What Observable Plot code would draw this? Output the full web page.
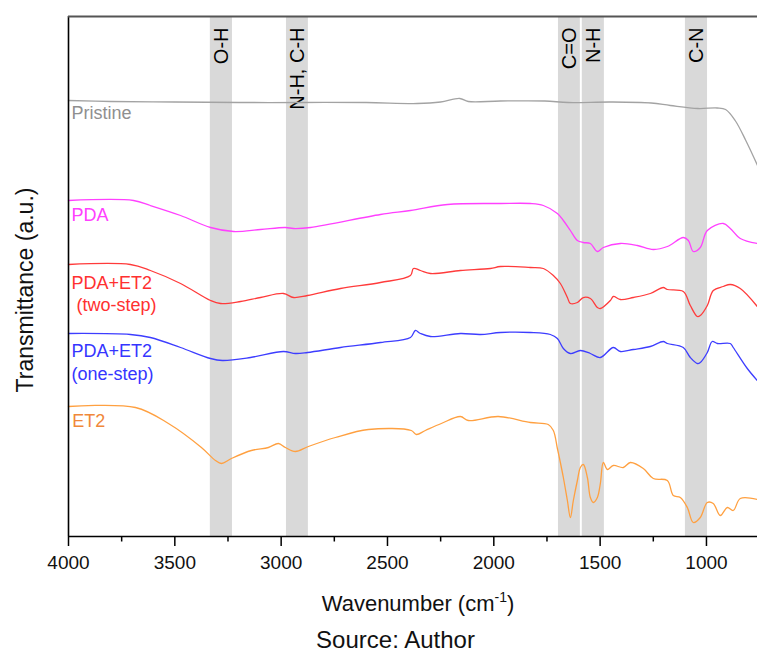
<!DOCTYPE html>
<html>
<head>
<meta charset="utf-8">
<script src="https://cdn.jsdelivr.net/npm/d3@7"></script>
<script src="https://cdn.jsdelivr.net/npm/@observablehq/plot@0.6"></script>
<style>
  body { margin: 0; background: #fff; font-family: "Liberation Sans", Arial, sans-serif; }
  #chart { position: relative; width: 757px; height: 652px; }
  #chart svg { display: block; }
  .source { position: absolute; left: 0; top: 629px; width: 791px; text-align: center;
            font-size: 24px; line-height: 22px; color: #111; }
</style>
</head>
<body>
<div id="chart"></div>
<script>
// FTIR spectra: [wavenumber (cm-1), transmittance (a.u.)], each curve offset for clarity
const pristine = [[4000,87.2],[3800,87.0],[3500,86.9],[3200,86.8],[2900,86.8],[2600,86.8],[2360,86.6],
  [2250,86.9],[2160,87.6],[2120,87.0],[1970,87.1],[1760,87.1],[1650,86.8],[1450,86.9],[1260,86.7],
  [1170,86.2],[1040,85.6],[950,85.7],[910,85.4],[865,83.2],[815,79.2],[760,74.2]];

const pda = [[4000,67.2],[3694,67.2],[3615,66.2],[3473,64.2],[3332,61.8],[3224,61.0],[3097,61.4],
  [2980,61.8],[2942,61.6],[2862,61.8],[2533,64.4],[2392,65.2],[2218,66.4],[1969,66.6],[1828,66.6],
  [1767,66.2],[1701,64.6],[1673,63.2],[1640,61.2],[1607,59.2],[1579,58.8],[1546,58.6],[1513,57.0],
  [1485,57.8],[1405,58.6],[1325,58.2],[1250,57.4],[1184,58.0],[1109,59.8],[1085,59.2],[1062,57.0],
  [1029,57.8],[996,61.2],[921,62.6],[888,61.6],[841,59.6],[761,58.6]];

const twoStep = [[4000,54.4],[3709,54.4],[3615,53.2],[3473,50.6],[3332,47.2],[3285,46.6],[3191,47.0],
  [3097,47.8],[2989,48.6],[2942,47.8],[2876,48.2],[2721,49.6],[2533,50.8],[2392,52.2],[2378,53.6],
  [2345,53.2],[2298,52.6],[2157,53.2],[2016,53.6],[1969,54.0],[1828,53.8],[1767,53.6],[1720,52.2],
  [1687,50.6],[1654,47.8],[1640,46.6],[1607,46.8],[1579,47.8],[1546,47.6],[1513,45.8],[1499,45.6],
  [1452,47.2],[1438,48.0],[1405,47.4],[1344,47.8],[1264,48.6],[1203,49.8],[1184,49.4],[1109,49.0],
  [1076,46.2],[1043,44.0],[1029,44.2],[996,46.2],[968,49.2],[921,50.0],[888,50.4],[841,49.6],[761,46.0]];

const oneStep = [[4000,40.6],[3709,40.4],[3615,39.8],[3473,37.8],[3332,35.6],[3276,35.2],[3144,35.8],
  [2989,37.0],[2933,36.6],[2876,36.8],[2721,37.8],[2533,38.8],[2392,39.8],[2369,41.2],[2345,40.6],
  [2298,40.0],[2157,40.6],[2063,40.4],[1969,40.8],[1828,40.8],[1734,40.4],[1701,39.6],[1673,37.6],
  [1640,36.6],[1593,37.2],[1546,36.6],[1499,35.8],[1438,37.8],[1405,37.0],[1344,37.4],[1264,38.0],
  [1203,39.0],[1184,38.6],[1109,37.8],[1076,35.8],[1043,34.6],[1029,34.8],[996,36.8],[973,39.0],
  [949,38.6],[888,38.6],[874,37.8],[808,33.6],[761,31.2]];

const et2 = [[4000,26.0],[3685,25.8],[3530,22.6],[3375,17.8],[3309,15.2],[3281,14.6],[3234,15.6],
  [3140,17.2],[3060,17.8],[3013,18.6],[2980,17.8],[2933,17.0],[2872,18.0],[2745,19.8],[2590,21.4],
  [2388,21.2],[2364,20.4],[2322,21.2],[2247,22.6],[2157,24.0],[2120,23.2],[1979,24.0],[1828,22.8],
  [1744,22.4],[1720,21.2],[1701,17.6],[1687,14.8],[1673,11.8],[1654,7.2],[1640,3.8],[1626,7.2],
  [1607,11.2],[1593,13.8],[1579,14.4],[1560,11.8],[1546,7.8],[1532,6.8],[1513,7.8],[1499,10.6],
  [1485,14.8],[1466,13.4],[1438,14.2],[1391,13.8],[1358,14.8],[1297,13.6],[1250,11.6],[1184,11.2],
  [1156,8.2],[1123,7.8],[1090,5.8],[1062,2.8],[1029,3.8],[996,6.8],[968,6.6],[935,4.2],[902,5.8],
  [874,5.2],[841,7.6],[761,7.4]];

const seriesNames = ["Pristine", "PDA", "PDA+ET2 (two-step)", "PDA+ET2 (one-step)", "ET2"];
const seriesValues = [pristine, pda, twoStep, oneStep, et2];
const lineColors = ["#a3a3a3", "#ff40ff", "#ff3b3b", "#3d3dff", "#ffa040"];

// Absorption bands (cm-1)
const bandNames = ["O-H", "N-H, C-H", "C=O", "N-H", "C-N"];
const bandFrom = [3333, 2975, 1696, 1584, 1099];
const bandTo = [3229, 2872, 1593, 1480, 995];

// Curve labels: text, wavenumber where the text starts, transmittance level
const labelTexts = ["Pristine", "PDA", "PDA+ET2", "(two-step)", "PDA+ET2", "(one-step)", "ET2"];
const labelX = [3986, 3986, 3986, 3962, 3986, 3986, 3982];
const labelY = [84.6, 64.2, 50.6, 46.2, 37.0, 32.4, 23.0];
const labelColors = ["#8f8f8f", "#ff40ff", "#ff3030", "#ff3030", "#3535ff", "#3535ff", "#f0883a"];

// Wavenumber ticks
const majorTicks = [4000, 3500, 3000, 2500, 2000, 1500, 1000];
const minorTicks = [3750, 3250, 2750, 2250, 1750, 1250];

const rows = seriesNames.flatMap((name, i) =>
  seriesValues[i].map(([wn, t]) => ({series: name, wn, t})));
const bands = bandNames.map((name, i) => ({name, from: bandFrom[i], to: bandTo[i], mid: (bandFrom[i] + bandTo[i]) / 2}));
const labels = labelTexts.map((text, i) => ({text, x: labelX[i], y: labelY[i], color: labelColors[i]}));

const font = "'Liberation Sans', Arial, sans-serif";

const chart = Plot.plot({
  width: 757,
  height: 627,
  marginLeft: 68,
  marginRight: 0,
  marginTop: 16,
  marginBottom: 91,
  style: {fontFamily: font, background: "#fff", overflow: "visible"},
  x: {type: "linear", domain: [4000, 760]},
  y: {domain: [0, 104], axis: null},
  color: {domain: seriesNames, range: lineColors},
  marks: [
    Plot.rect(bands, {x1: "from", x2: "to", fill: "#d9d9d9"}),
    Plot.text(bands, {x: "mid", text: "name", frameAnchor: "top", rotate: -90,
      textAnchor: "end", lineAnchor: "middle", dy: 11, fontSize: 20, fill: "#000"}),
    Plot.line(rows, {x: "wn", y: "t", z: "series", stroke: "series", strokeWidth: 1.3, curve: "catmull-rom"}),
    Plot.text(labels, {x: "x", y: "y", text: "text", fill: "color", textAnchor: "start",
      lineAnchor: "middle", fontSize: 18}),
    // outward ticks below the wavenumber axis (major longer than minor)
    Plot.ruleX(majorTicks, {y1: 0, y2: -2, stroke: "#000", strokeWidth: 1.5}),
    Plot.ruleX(minorTicks, {y1: 0, y2: -1.1, stroke: "#000", strokeWidth: 1.5}),
    Plot.axisX({ticks: majorTicks, tickSize: 0, tickPadding: 19, fontSize: 19,
      fill: "#111", tickFormat: d => String(d), label: null}),
    Plot.ruleX([4000], {stroke: "#000", strokeWidth: 1.6}),
    Plot.ruleY([0], {stroke: "#000", strokeWidth: 1.6}),
    Plot.ruleY([104], {stroke: "#555", strokeWidth: 2})
  ]
});

// Axis titles, with a raised superscript for cm-1
const svg = d3.select(chart);
const xt = svg.append("text")
  .attr("x", 418).attr("y", 611)
  .attr("text-anchor", "middle")
  .attr("font-size", 22).attr("font-family", font).attr("fill", "#111");
xt.append("tspan").text("Wavenumber (cm");
xt.append("tspan").text("-1").attr("font-size", 14).attr("dy", -9);
xt.append("tspan").text(")").attr("dy", 9);

svg.append("text")
  .attr("transform", "translate(33,290) rotate(-90)")
  .attr("text-anchor", "middle")
  .attr("font-size", 23).attr("font-family", font).attr("fill", "#111")
  .text("Transmittance (a.u.)");

const root = document.getElementById("chart");
root.appendChild(chart);
const src = document.createElement("div");
src.className = "source";
src.textContent = "Source: Author";
root.appendChild(src);
</script>
</body>
</html>
